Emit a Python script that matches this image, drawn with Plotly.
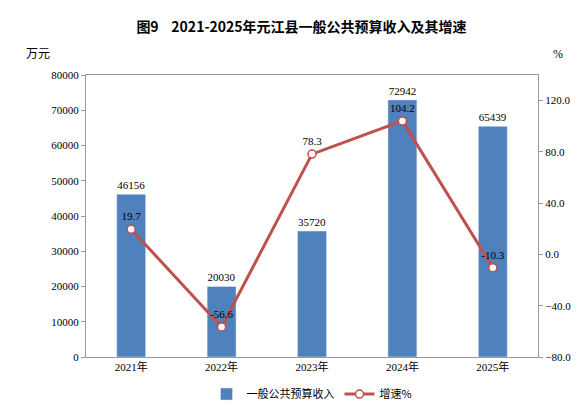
import plotly.graph_objects as go

years = ["2021年", "2022年", "2023年", "2024年", "2025年"]
revenue = [46156, 20030, 35720, 72942, 65439]
growth = [19.7, -56.6, 78.3, 104.2, -10.3]
left_ticks = [0, 10000, 20000, 30000, 40000, 50000, 60000, 70000, 80000]
right_ticks = [-80, -40, 0, 40, 80, 120]

fig = go.Figure()
fig.add_bar(x=years, y=revenue, name="一般公共预算收入", marker_color="#4f81bd", width=0.32,
            text=[str(v) for v in revenue], textposition="outside",
            textfont=dict(size=11, color="black"), cliponaxis=False)
fig.add_scatter(x=years, y=growth, name="增速%", yaxis="y2", mode="lines+markers+text",
                line=dict(color="#c0504d", width=3),
                marker=dict(size=8, color="white", line=dict(color="#c0504d", width=1.5)),
                text=[f"{v:.1f}" for v in growth], textposition="top center",
                textfont=dict(size=11, color="black"), cliponaxis=False)
fig.update_layout(
    width=587, height=413, plot_bgcolor="white", paper_bgcolor="white",
    margin=dict(l=78, r=57, t=67, b=56),
    font=dict(family="Liberation Serif, Noto Sans CJK SC", size=11, color="black"),
    title=dict(text="<b>图9    2021-2025年元江县一般公共预算收入及其增速</b>", x=0.5, y=0.965,
               xanchor="center", font=dict(size=14, family="Noto Sans CJK SC")),
    xaxis=dict(showline=True, linecolor="#999", mirror=True, ticks="", tickfont=dict(size=11)),
    yaxis=dict(range=[0, 80000], tickvals=left_ticks, tickformat="d", showgrid=False, showline=True,
               linecolor="#999", ticks="outside", ticklen=4, tickcolor="#999"),
    yaxis2=dict(range=[-80, 140], tickvals=right_ticks, tickformat=".1f", overlaying="y",
                side="right", showgrid=False, showline=True, linecolor="#999",
                ticks="outside", ticklen=4, tickcolor="#999", zeroline=False),
    legend=dict(orientation="h", x=0.5, xanchor="center", y=-0.08, yanchor="top",
                itemwidth=30, tracegroupgap=0,
                font=dict(size=11, family="Noto Sans CJK SC")),
    annotations=[
        dict(text="万元", x=0, xref="paper", xanchor="center", xshift=-48, y=1, yref="paper",
             yanchor="bottom", yshift=12, showarrow=False, font=dict(size=12, family="Noto Sans CJK SC")),
        dict(text="%", x=1, xref="paper", xanchor="center", xshift=20, y=1, yref="paper",
             yanchor="bottom", yshift=12, showarrow=False, font=dict(size=12)),
    ],
)
fig.write_html("out.html")
